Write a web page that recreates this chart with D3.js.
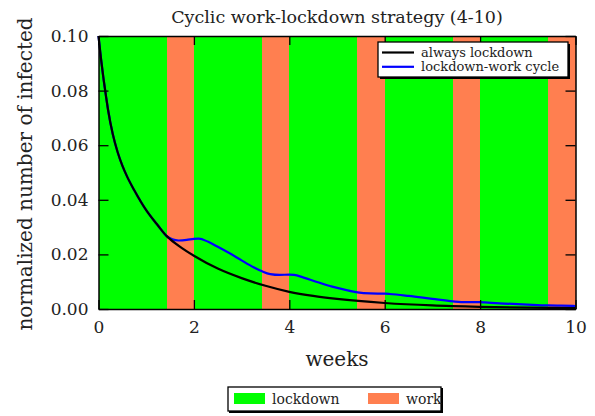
<!DOCTYPE html>
<html>
<head>
<meta charset="utf-8">
<script src="https://cdn.jsdelivr.net/npm/d3@7"></script>
<style>
  body { margin: 0; background: #fff; }
  svg { display: block; font-family: "DejaVu Serif", serif; }
</style>
</head>
<body>
<svg id="chart" width="595" height="416"></svg>
<script>
"use strict";

// always lockdown curve
var lockWeeks = [0, 0.05, 0.1, 0.157, 0.2, 0.3, 0.4, 0.5, 0.6, 0.75, 1.0, 1.25, 1.43, 1.5, 1.75, 2.0, 2.5, 3.0, 3.5, 4.0, 4.5, 5.0, 6.0, 7.0, 8.0, 9.0, 10.0];
var lockValues = [0.1, 0.092, 0.085, 0.078, 0.073, 0.064, 0.0575, 0.0525, 0.0485, 0.0435, 0.0362, 0.0305, 0.0267, 0.0256, 0.0223, 0.0195, 0.0148, 0.0113, 0.0085, 0.0063, 0.0048, 0.0037, 0.0022, 0.0013, 0.0008, 0.0005, 0.0003];

// lockdown-work cycle curve
var cycleWeeks = [0, 0.05, 0.1, 0.157, 0.2, 0.3, 0.4, 0.5, 0.6, 0.75, 1.0, 1.25, 1.43, 1.55, 1.68, 1.85, 2.0, 2.1, 2.3, 2.5, 2.75, 3.0, 3.25, 3.43, 3.6, 3.8, 4.0, 4.1, 4.3, 4.6, 4.9, 5.2, 5.43, 5.7, 6.0, 6.1, 6.5, 7.0, 7.43, 7.7, 8.0, 8.1, 8.5, 9.0, 9.43, 9.7, 10.0];
var cycleValues = [0.1, 0.092, 0.085, 0.078, 0.073, 0.064, 0.0575, 0.0525, 0.0485, 0.0435, 0.0362, 0.0305, 0.0267, 0.0255, 0.0251, 0.0253, 0.0257, 0.0258, 0.0246, 0.0228, 0.0204, 0.0178, 0.0153, 0.0138, 0.0128, 0.0125, 0.0126, 0.0125, 0.0115, 0.0098, 0.0082, 0.0069, 0.0061, 0.0057, 0.0056, 0.0055, 0.0048, 0.0037, 0.0028, 0.0025, 0.0025, 0.0024, 0.0020, 0.0016, 0.0013, 0.0012, 0.0011];

// phases: 10 days lockdown, 4 days work
var phaseStart = [0, 1.4286, 2, 3.4286, 4, 5.4286, 6, 7.4286, 8, 9.4286];
var phaseEnd = [1.4286, 2, 3.4286, 4, 5.4286, 6, 7.4286, 8, 9.4286, 10];
var phaseType = ['lockdown', 'work', 'lockdown', 'work', 'lockdown', 'work', 'lockdown', 'work', 'lockdown', 'work'];

var xTicks = [0, 2, 4, 6, 8, 10];
var yTicks = [0, 0.02, 0.04, 0.06, 0.08, 0.10];

var colors = { lockdown: '#00ff00', work: '#ff7f50' };

var svg = d3.select('#chart');

var plotLeft = 98.5, plotRight = 575.5, plotTop = 36, plotBottom = 309;

var x = d3.scaleLinear().domain([0, 10]).range([plotLeft, plotRight]);
var y = d3.scaleLinear().domain([0, 0.1]).range([plotBottom, plotTop]);

// background bands
svg.append('g')
    .selectAll('rect')
    .data(phaseStart)
    .enter()
    .append('rect')
    .attr('x', (d, i) => x(d))
    .attr('y', plotTop)
    .attr('width', (d, i) => x(phaseEnd[i]) - x(d))
    .attr('height', plotBottom - plotTop)
    .attr('fill', (d, i) => colors[phaseType[i]])
    .attr('shape-rendering', 'crispEdges');

// curves
var line = d3.line()
    .x(d => x(d[0]))
    .y(d => y(d[1]))
    .curve(d3.curveMonotoneX);

svg.append('path')
    .datum(d3.zip(cycleWeeks, cycleValues))
    .attr('d', line)
    .attr('fill', 'none')
    .attr('stroke', '#0000ff')
    .attr('stroke-width', 2.2);

svg.append('path')
    .datum(d3.zip(lockWeeks, lockValues))
    .attr('d', line)
    .attr('fill', 'none')
    .attr('stroke', '#000')
    .attr('stroke-width', 2.2);

// axes, ticks inward on all sides
var xAxis = svg.append('g')
    .attr('transform', `translate(0,${plotBottom})`)
    .call(d3.axisBottom(x).tickValues(xTicks).tickSizeInner(-9).tickSizeOuter(0).tickPadding(12).tickFormat(d3.format('d')));
var xTop = svg.append('g')
    .attr('transform', `translate(0,${plotTop})`)
    .call(d3.axisTop(x).tickValues(xTicks).tickSizeInner(-9).tickSizeOuter(0).tickFormat(''));
var yAxis = svg.append('g')
    .attr('transform', `translate(${plotLeft},0)`)
    .call(d3.axisLeft(y).tickValues(yTicks).tickSizeInner(-10).tickSizeOuter(0).tickPadding(10).tickFormat(d3.format('.2f')));
var yRight = svg.append('g')
    .attr('transform', `translate(${plotRight},0)`)
    .call(d3.axisRight(y).tickValues(yTicks).tickSizeInner(-10).tickSizeOuter(0).tickFormat(''));

[xAxis, xTop, yAxis, yRight].forEach(g => {
    g.select('.domain').attr('stroke', '#000').attr('stroke-width', 1.5);
    g.selectAll('.tick line').attr('stroke', '#000').attr('stroke-width', 1.3);
    g.selectAll('text')
        .attr('font-family', 'DejaVu Serif, serif')
        .attr('font-size', 17)
        .attr('fill', '#222');
});

// titles
svg.append('text')
    .attr('x', (plotLeft + plotRight) / 2)
    .attr('y', 23)
    .attr('text-anchor', 'middle')
    .attr('font-size', 17.5)
    .attr('fill', '#222')
    .text('Cyclic work-lockdown strategy (4-10)');

svg.append('text')
    .attr('x', (plotLeft + plotRight) / 2)
    .attr('y', 366)
    .attr('text-anchor', 'middle')
    .attr('font-size', 20)
    .attr('fill', '#222')
    .text('weeks');

svg.append('text')
    .attr('transform', `translate(32,174) rotate(-90)`)
    .attr('text-anchor', 'middle')
    .attr('font-size', 20)
    .attr('fill', '#222')
    .text('normalized number of infected');

// series legend
var lg = svg.append('g');
lg.append('rect').attr('x', 380).attr('y', 44).attr('width', 190).attr('height', 35).attr('fill', '#000');
lg.append('rect').attr('x', 378).attr('y', 42).attr('width', 190).attr('height', 35)
    .attr('fill', '#fff').attr('stroke', '#000').attr('stroke-width', 1.3);
var seriesNames = ['always lockdown', 'lockdown-work cycle'];
var seriesColors = ['#000', '#0000ff'];
seriesNames.forEach((name, i) => {
    var yy = 52.5 + i * 14.3;
    lg.append('line').attr('x1', 382).attr('x2', 414).attr('y1', yy).attr('y2', yy)
        .attr('stroke', seriesColors[i]).attr('stroke-width', 2.2);
    lg.append('text').attr('x', 421).attr('y', yy + 4.5)
        .attr('font-size', 13).attr('fill', '#222').text(name);
});

// phase legend
var pg = svg.append('g');
pg.append('rect').attr('x', 229).attr('y', 388).attr('width', 214).attr('height', 25).attr('fill', '#000');
pg.append('rect').attr('x', 228).attr('y', 387).attr('width', 213).attr('height', 24)
    .attr('fill', '#fff').attr('stroke', '#000').attr('stroke-width', 1.3);
var phaseNames = ['lockdown', 'work'];
var phaseX = [234, 368];
phaseNames.forEach((name, i) => {
    pg.append('rect').attr('x', phaseX[i]).attr('y', 393).attr('width', 31).attr('height', 11)
        .attr('fill', colors[name]);
    pg.append('text').attr('x', phaseX[i] + 38).attr('y', 403.5)
        .attr('font-size', 14).attr('fill', '#222').text(name);
});
</script>
</body>
</html>
